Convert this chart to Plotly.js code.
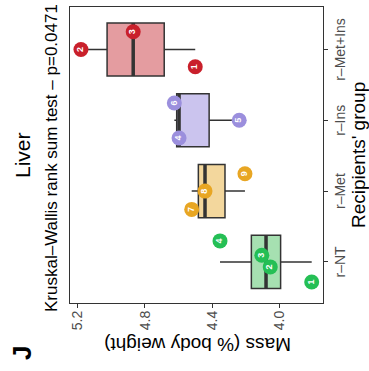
<!DOCTYPE html>
<html>
<head>
<meta charset="utf-8">
<script src="https://cdn.plot.ly/plotly-3.0.1.min.js"></script>
<style>
html,body{margin:0;padding:0;overflow:hidden;background:#fff;width:369px;height:371px;}
#wrap{position:absolute;left:0;top:0;width:371px;height:369px;transform-origin:0 0;transform:translate(0px,371px) rotate(-90deg);}
#plot{width:371px;height:369px;}
</style>
</head>
<body>
<div id="wrap"><div id="plot"></div></div>
<script>
// ---- data ----
const groups = ["r\u2013NT", "r\u2013Met", "r\u2013Ins", "r\u2013Met+Ins"];
const ntValues = [3.809, 4.055, 4.105, 4.353];
const ntLabels = ["1", "2", "3", "4"];
const ntJitter = [-0.283, -0.07, 0.095, 0.297];
const metValues = [4.521, 4.442, 4.205];
const metLabels = ["7", "8", "9"];
const metJitter = [-0.258, 0.0, 0.246];
const insValues = [4.596, 4.239, 4.624];
const insLabels = ["4", "5", "6"];
const insJitter = [-0.25, 0.0, 0.245];
const metInsValues = [4.50, 5.178, 4.868];
const metInsLabels = ["1", "2", "3"];
const metInsJitter = [-0.243, 0.0, 0.25];
const yTicks = [4.0, 4.4, 4.8, 5.2];
const yTickText = ["4.0", "4.4", "4.8", "5.2"];

// ---- styles ----
const FONT = "Liberation Sans, Arial, Helvetica, sans-serif";
const boxFill = ["#a6e0b1", "#f3d79d", "#cbc4ee", "#e49ca0"];
const ptColor = ["#25bf55", "#e8a623", "#9b8fdd", "#c9202b"];
const LINE = "#333333";

const series = [
  {v: ntValues, l: ntLabels, j: ntJitter},
  {v: metValues, l: metLabels, j: metJitter},
  {v: insValues, l: insLabels, j: insJitter},
  {v: metInsValues, l: metInsLabels, j: metInsJitter}
];

function quantile7(arr, p) {
  const s = arr.slice().sort((a, b) => a - b);
  const h = (s.length - 1) * p;
  const lo = Math.floor(h), hi = Math.ceil(h);
  return s[lo] + (h - lo) * (s[hi] - s[lo]);
}

const traces = [];
const BW = 0.75;
series.forEach((g, i) => {
  const q1 = quantile7(g.v, 0.25), med = quantile7(g.v, 0.5), q3 = quantile7(g.v, 0.75);
  const iqr = q3 - q1;
  const lf = Math.min(...g.v.filter(v => v >= q1 - 1.5 * iqr));
  const uf = Math.max(...g.v.filter(v => v <= q3 + 1.5 * iqr));
  traces.push({
    type: "box", x: [i], q1: [q1], median: [med], q3: [q3],
    lowerfence: [lf], upperfence: [uf], width: BW, whiskerwidth: 0,
    fillcolor: boxFill[i], line: {color: LINE, width: 1.5},
    boxpoints: false, hoverinfo: "skip", showlegend: false
  });
  traces.push({
    type: "scatter", mode: "lines", x: [i - BW / 2, i + BW / 2], y: [med, med],
    line: {color: LINE, width: 3.5}, hoverinfo: "skip", showlegend: false
  });
});
series.forEach((g, i) => {
  traces.push({
    type: "scatter", mode: "markers+text",
    x: g.j.map(d => i + d), y: g.v, text: g.l,
    textposition: "middle center",
    textfont: {family: FONT, size: 9, color: "#ffffff", weight: "bold"},
    marker: {size: 15, color: ptColor[i], line: {width: 0}},
    hoverinfo: "skip", showlegend: false, cliponaxis: false
  });
});

const L = 68, R = 364, T = 70, B = 323;
const px = x => (x - L) / (R - L);
const py = y => (B - y) / (B - T);

const layout = {
  width: 371, height: 369,
  margin: {l: L, r: 371 - R, t: T, b: 369 - B, pad: 0},
  paper_bgcolor: "#ffffff", plot_bgcolor: "#ffffff",
  showlegend: false,
  font: {family: FONT},
  xaxis: {
    range: [-0.58, 3.6], tickvals: [0, 1, 2, 3], ticktext: groups,
    showgrid: false, zeroline: false, showline: true, mirror: true,
    linecolor: LINE, linewidth: 1, ticks: "outside", ticklen: 4, tickcolor: LINE,
    tickfont: {family: FONT, size: 14, color: "#4d4d4d"}, fixedrange: true
  },
  yaxis: {
    range: [3.742, 5.243], tickvals: yTicks, ticktext: yTickText, tickangle: 0,
    showgrid: false, zeroline: false, showline: true, mirror: true,
    linecolor: LINE, linewidth: 1, ticks: "outside", ticklen: 4, tickcolor: LINE,
    tickfont: {family: FONT, size: 14, color: "#4d4d4d"}, fixedrange: true
  },
  annotations: [
    {text: "Liver", xref: "paper", yref: "paper", x: px(216), y: py(23), xanchor: "center", yanchor: "middle",
     showarrow: false, font: {family: FONT, size: 21, color: "#000"}},
    {text: "Kruskal\u2013Wallis rank sum test \u2013 p=0.0471", xref: "paper", yref: "paper", x: px(213), y: py(51),
     xanchor: "center", yanchor: "middle", showarrow: false, font: {family: FONT, size: 17, color: "#000"}},
    {text: "Mass (% body weight)", xref: "paper", yref: "paper", x: px(26), y: py(198), xanchor: "center", yanchor: "middle",
     textangle: -90, showarrow: false, font: {family: FONT, size: 19, color: "#000"}},
    {text: "Recipients' group", xref: "paper", yref: "paper", x: px(215.5), y: py(358), xanchor: "center", yanchor: "middle",
     showarrow: false, font: {family: FONT, size: 19, color: "#000"}},
    {text: "<b>J</b>", xref: "paper", yref: "paper", x: px(18.5), y: py(22.5), xanchor: "center", yanchor: "middle",
     showarrow: false, font: {family: FONT, size: 26, color: "#000"}}
  ]
};

Plotly.newPlot("plot", traces, layout, {displayModeBar: false, staticPlot: true});
</script>
</body>
</html>
